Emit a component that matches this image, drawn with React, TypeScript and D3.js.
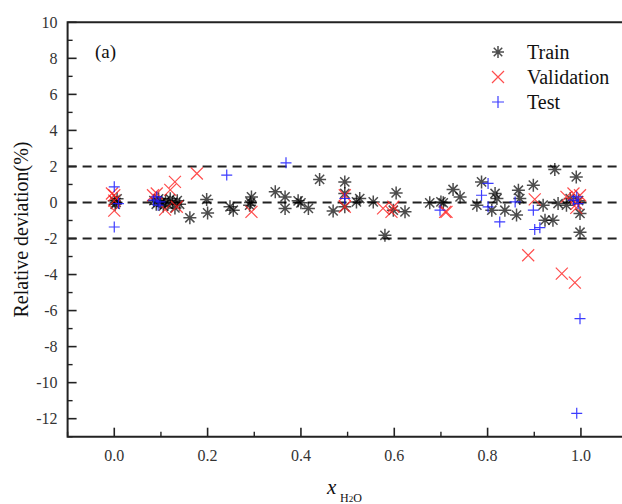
import React from "react";
import * as d3 from "d3";

const trainX = [0.0, 0.002, 0.004, 0.006, 0.085, 0.09, 0.095, 0.1, 0.105, 0.11, 0.115, 0.12, 0.125, 0.13, 0.135, 0.14, 0.162, 0.198, 0.2, 0.248, 0.255, 0.294, 0.29, 0.292, 0.345, 0.366, 0.366, 0.394, 0.4, 0.416, 0.44, 0.469, 0.494, 0.494, 0.494, 0.519, 0.526, 0.555, 0.58, 0.598, 0.604, 0.623, 0.676, 0.7, 0.705, 0.726, 0.741, 0.777, 0.787, 0.809, 0.816, 0.82, 0.837, 0.862, 0.866, 0.869, 0.898, 0.919, 0.923, 0.94, 0.944, 0.951, 0.969, 0.977, 0.99, 0.998, 0.998, 0.995];
const trainY = [0.1, -0.1, 0.0, 0.2, 0.1, -0.1, 0.2, 0.0, -0.2, 0.1, -0.1, 0.2, 0.0, -0.3, 0.1, -0.1, -0.85, 0.17, -0.58, -0.24, -0.43, 0.31, -0.15, 0.0, 0.59, 0.31, -0.33, 0.09, -0.02, -0.33, 1.28, -0.47, 1.14, 0.5, -0.24, 0.03, 0.22, 0.03, -1.82, -0.43, 0.53, -0.52, -0.02, 0.03, -0.02, 0.72, 0.31, -0.15, 1.14, -0.43, 0.5, 0.22, -0.43, -0.7, 0.68, 0.22, 0.96, -0.15, -0.98, -0.98, 1.83, -0.06, -0.15, 0.22, 1.42, -0.61, -1.65, 0.1];

const valX = [0.0, 0.0, 0.0, -0.005, 0.083, 0.091, 0.109, 0.12, 0.13, 0.134, 0.177, 0.294, 0.494, 0.494, 0.576, 0.594, 0.598, 0.712, 0.709, 0.887, 0.901, 0.959, 0.969, 0.984, 0.987, 0.991, 0.998, 0.99];
const valY = [0.4, 0.1, -0.45, 0.5, 0.4, 0.5, -0.4, 0.7, 1.14, -0.24, 1.61, -0.52, 0.4, -0.24, -0.33, -0.52, -0.24, -0.52, -0.52, -2.93, 0.17, -3.95, 0.31, 0.5, -4.45, -0.06, 0.4, -0.3];

const testX = [0.0, 0.0, 0.009, 0.084, 0.091, 0.094, 0.098, 0.241, 0.368, 0.494, 0.698, 0.787, 0.801, 0.801, 0.826, 0.859, 0.898, 0.901, 0.912, 0.984, 0.991, 0.994, 0.998, 0.991];
const testY = [0.87, -1.36, -0.06, 0.13, 0.31, -0.15, 0.03, 1.52, 2.2, 0.22, -0.43, 0.4, 1.06, -0.24, -1.08, 0.03, -0.43, -1.5, -1.4, 0.13, 0.31, -0.06, -6.45, -11.7];

const yTicks = [10, 8, 6, 4, 2, 0, -2, -4, -6, -8, -10, -12];
const xTicks = [0.0, 0.2, 0.4, 0.6, 0.8, 1.0];
const refLines = [2, 0, -2];
const legendItems = ["Train", "Validation", "Test"];

const W = 622, H = 504;
const x = d3.scaleLinear().domain([-0.1, 1.1]).range([67.6, 627.6]);
const y = d3.scaleLinear().domain([-13, 10]).range([436.7, 22.3]);
const ts: React.CSSProperties = { fontFamily: "Liberation Serif" };

function Star({ cx, cy, r = 6.5 }: { cx: number; cy: number; r?: number }) {
  const d = [0, 45, 90, 135].map((a) => {
    const t = (a * Math.PI) / 180;
    return `M${cx - r * Math.cos(t)},${cy - r * Math.sin(t)}L${cx + r * Math.cos(t)},${cy + r * Math.sin(t)}`;
  }).join("");
  return <path d={d} stroke="#000" strokeOpacity={0.7} strokeWidth={1.5} fill="none" />;
}
function Cross({ cx, cy, r = 6 }: { cx: number; cy: number; r?: number }) {
  return <path d={`M${cx - r},${cy - r}L${cx + r},${cy + r}M${cx - r},${cy + r}L${cx + r},${cy - r}`} stroke="#ff2020" strokeOpacity={0.8} strokeWidth={1.2} fill="none" />;
}
function Plus({ cx, cy, r = 5.5 }: { cx: number; cy: number; r?: number }) {
  return <path d={`M${cx - r},${cy}L${cx + r},${cy}M${cx},${cy - r}L${cx},${cy + r}`} stroke="#1a1aff" strokeOpacity={0.85} strokeWidth={1.2} fill="none" />;
}

export default function App() {
  const minorY = d3.range(-13, 11, 1).filter((v) => v % 2 !== 0);
  const minorX = d3.range(-1, 11).map((v) => v / 10).filter((v) => Math.round(v * 10) % 2 !== 0);
  return (
    <svg width={W} height={H} style={{ position: "absolute", left: 0, top: 0 }}>
      <rect width={W} height={H} fill="#fff" />
      {refLines.map((v) => (
        <line key={v} x1={x(-0.1)} x2={W} y1={y(v)} y2={y(v)} stroke="#222" strokeWidth={2} strokeDasharray="9,6" />
      ))}
      {trainX.map((v, i) => <Star key={"t" + i} cx={x(v)} cy={y(trainY[i])} />)}
      {valX.map((v, i) => <Cross key={"v" + i} cx={x(v)} cy={y(valY[i])} />)}
      {testX.map((v, i) => <Plus key={"s" + i} cx={x(v)} cy={y(testY[i])} />)}
      <path d={`M${W},${y(10)}H${x(-0.1)}V${y(-13)}H${W}`} fill="none" stroke="#222" strokeWidth={2} />
      {yTicks.map((v) => (
        <g key={v}>
          <line x1={x(-0.1)} x2={x(-0.1) + 9} y1={y(v)} y2={y(v)} stroke="#222" strokeWidth={1.6} />
          <text style={ts} x={x(-0.1) - 10} y={y(v)} dy="0.35em" textAnchor="end" fontSize={16} fill="#333">{v}</text>
        </g>
      ))}
      {minorY.map((v) => (
        <line key={"my" + v} x1={x(-0.1)} x2={x(-0.1) + 5} y1={y(v)} y2={y(v)} stroke="#222" strokeWidth={1.4} />
      ))}
      {xTicks.map((v) => (
        <g key={v}>
          <line x1={x(v)} x2={x(v)} y1={y(-13)} y2={y(-13) - 9} stroke="#222" strokeWidth={1.6} />
          <text style={ts} x={x(v)} y={y(-13) + 24} textAnchor="middle" fontSize={16} fill="#333">{v.toFixed(1)}</text>
        </g>
      ))}
      {minorX.map((v) => (
        <line key={"mx" + v} x1={x(v)} x2={x(v)} y1={y(-13)} y2={y(-13) - 5} stroke="#222" strokeWidth={1.4} />
      ))}
      <text style={ts} transform={`translate(28,${(y(10) + y(-13)) / 2}) rotate(-90)`} textAnchor="middle" fontSize={20} fill="#111">Relative deviation(%)</text>
      <text style={ts} x={327} y={494} fontSize={21} fontStyle="italic" fill="#111">x</text>
      <text style={ts} x={340} y={502} fontSize={12} fill="#111">H<tspan fontSize={9}>2</tspan>O</text>
      <text style={ts} x={95} y={58} fontSize={19} fill="#111">(a)</text>
      {legendItems.map((t, i) => {
        const cy = 52 + i * 25;
        return (
          <g key={t}>
            {i === 0 && <Star cx={498} cy={cy} r={6} />}
            {i === 1 && <Cross cx={498} cy={cy} r={6} />}
            {i === 2 && <Plus cx={498} cy={cy} r={6} />}
            <text style={ts} x={527} y={cy} dy="0.35em" fontSize={20} fill="#111">{t}</text>
          </g>
        );
      })}
    </svg>
  );
}
